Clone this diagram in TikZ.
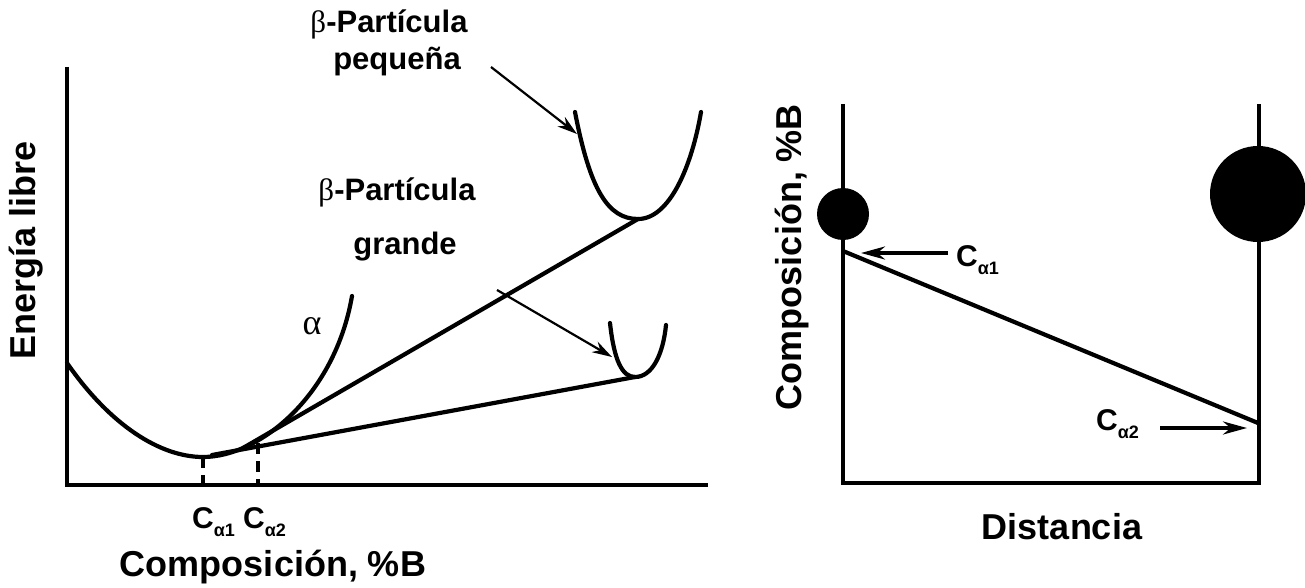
\documentclass[tikz,border=0pt]{standalone}
\usepackage{fontspec}
\setmainfont{Liberation Sans}
\newfontfamily\grk{Liberation Serif}
\usetikzlibrary{arrows.meta}
\begin{document}
\begin{tikzpicture}[x=1pt,y=-1pt,
  lbl/.style={font=\bfseries\fontsize{31}{36}\selectfont, inner sep=0pt},
  axlbl/.style={font=\bfseries\fontsize{36}{40}\selectfont, inner sep=0pt},
  clbl/.style={font=\bfseries\fontsize{30}{34}\selectfont, inner sep=0pt},
  curve/.style={line width=4.2pt, line cap=round},
  axis/.style={line width=3.4pt},
  ptr/.style={line width=2.2pt, -{Stealth[length=20pt,width=12pt]}},
  ptrb/.style={line width=3.6pt, -{Stealth[length=24pt,width=13pt]}},
  dsh/.style={line width=3.4pt, dash pattern=on 11pt off 7pt}]
\newcommand{\csub}[1]{C\raisebox{-8pt}{\fontsize{18}{18}\selectfont #1}}
\useasboundingbox (0,0) rectangle (1305,588);
\fill[white] (0,0) rectangle (1305,588);
% ---------- left plot ----------
\coordinate (ytop) at (67,67);
\coordinate (orig) at (67,485);
\coordinate (xend) at (708,485);
\draw[axis] (ytop) -- (orig) -- (xend);
% alpha curve
\coordinate (a0) at (67,363);
\coordinate (amin) at (203,457);
\coordinate (aend) at (352,296);
\draw[curve] (a0) .. controls (110,425) and (160,457) .. (amin)
  .. controls (260,457) and (335,395) .. (aend);
% small beta curve
\coordinate (s0) at (575,112);
\coordinate (smin) at (638,219);
\coordinate (s1) at (701,112);
\draw[curve] (s0) .. controls (590,190) and (608,219) .. (smin)
  .. controls (670,219) and (692,165) .. (s1);
% large beta curve
\coordinate (g0) at (610,323);
\coordinate (gmin) at (635,377);
\coordinate (g1) at (666,325);
\draw[curve] (g0) .. controls (614,360) and (622,377) .. (gmin)
  .. controls (652,377) and (663,355) .. (g1);
% tangent lines
\coordinate (t1) at (243,448);
\coordinate (t2) at (212,455);
\draw[curve] (t1) -- (smin);
\draw[curve] (t2) -- (gmin);
% dashed markers
\coordinate (d1) at (203,485);
\coordinate (c2top) at (258,443);
\coordinate (d2) at (258,485);
\draw[dsh] (amin) -- (d1);
\draw[dsh] (c2top) -- (d2);
% labels
\node[lbl] (bp1) at (389,24) {{\grk\mdseries β}-Partícula};
\node[lbl] (bp2) at (397,62) {pequeña};
\node[lbl] (bg1) at (397,192) {{\grk\mdseries β}-Partícula};
\node[lbl] (bg2) at (405,247) {grande};
\node[font=\grk\fontsize{36}{36}\selectfont, inner sep=0pt] (alab) at (312,326) {α};
\node[clbl, anchor=west] (ca1) at (192,522) {\csub{α1}};
\node[clbl, anchor=west] (ca2) at (243,522) {\csub{α2}};
\node[axlbl] (xlab) at (273,567) {Composición, \%B};
\node[axlbl, rotate=90] (ylab) at (26,250) {Energía libre};
% pointer arrows
\coordinate (p0) at (491,67);
\coordinate (p1) at (577,134);
\draw[ptr] (p0) -- (p1);
\coordinate (q0) at (497,290);
\coordinate (q1) at (612,357);
\draw[ptr] (q0) -- (q1);
% ---------- right plot ----------
\coordinate (la) at (843,104);
\coordinate (lb) at (843,483);
\coordinate (ra) at (1259,104);
\coordinate (rb) at (1259,483);
\draw[axis] (la) -- (lb) -- (rb) -- (ra);
\fill (843,214) circle[radius=26];
\fill (1258,194) circle[radius=48];
\coordinate (k0) at (843,251);
\coordinate (k1) at (1258,423);
\draw[curve] (k0) -- (k1);
\node[clbl, anchor=west] (rc1) at (956,260) {\csub{α1}};
\node[clbl, anchor=west] (rc2) at (1096,424) {\csub{α2}};
\coordinate (r0) at (948,253);
\coordinate (r1) at (861,253);
\draw[ptrb] (r0) -- (r1);
\coordinate (u0) at (1160,428);
\coordinate (u1) at (1247,428);
\draw[ptrb] (u0) -- (u1);
\node[axlbl] (dlab) at (1062,527) {Distancia};
\node[axlbl, rotate=90] (clab) at (792,257) {Composición, \%B};
\end{tikzpicture}
\end{document}
